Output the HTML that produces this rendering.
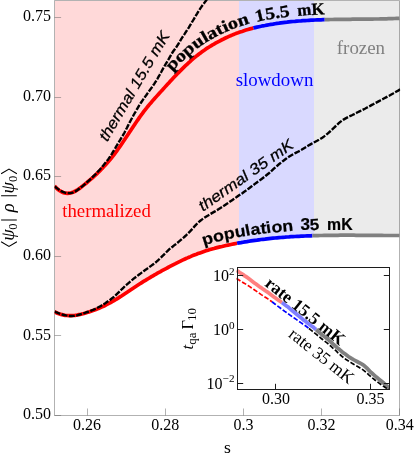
<!DOCTYPE html>
<html><head><meta charset="utf-8"><title>plot</title>
<style>html,body{margin:0;padding:0;background:#fff;}body{width:415px;height:458px;overflow:hidden;font-family:"Liberation Serif",serif;}svg{display:block;will-change:transform;}</style>
</head><body>
<svg width="415" height="458" viewBox="0 0 415 458">
<rect width="100%" height="100%" fill="#fff"/>
<path d="M54.5,0.5 238.7,0.5 238.7,243.0 237.0,243.3 235.0,243.7 233.0,244.1 231.0,244.5 229.0,244.9 227.0,245.3 225.0,245.8 223.0,246.2 221.0,246.7 219.0,247.2 217.0,247.7 215.0,248.2 213.0,248.8 211.0,249.3 209.0,249.9 207.0,250.5 205.0,251.2 203.0,251.8 201.0,252.5 199.0,253.2 197.0,254.0 195.5,254.5 194.0,255.1 192.5,255.7 191.0,256.4 189.5,257.0 188.0,257.7 186.5,258.3 185.0,259.0 183.5,259.7 182.0,260.4 180.5,261.1 179.0,261.8 177.5,262.6 176.0,263.3 174.5,264.1 173.0,264.9 171.5,265.6 170.0,266.4 168.5,267.2 167.0,268.0 165.5,268.8 164.0,269.6 162.5,270.5 161.0,271.3 159.5,272.1 158.0,273.0 156.5,273.8 155.0,274.7 153.5,275.5 152.0,276.4 150.5,277.3 149.0,278.2 147.5,279.1 146.0,280.0 144.5,280.9 143.0,281.8 141.5,282.7 140.0,283.7 138.5,284.7 137.0,285.7 135.5,286.6 134.0,287.6 132.5,288.7 131.0,289.7 129.5,290.7 128.0,291.7 126.5,292.7 125.0,293.7 123.5,294.7 122.0,295.7 120.5,296.6 119.0,297.6 117.5,298.5 116.0,299.4 114.5,300.3 113.0,301.2 111.5,302.1 110.0,302.9 108.5,303.7 107.0,304.5 105.5,305.2 104.0,306.0 102.5,306.7 101.0,307.3 99.5,308.0 98.0,308.6 96.5,309.3 95.0,309.8 93.5,310.4 91.5,311.1 89.5,311.8 87.5,312.4 85.5,313.0 83.5,313.6 81.5,314.1 79.5,314.5 77.5,314.9 75.5,315.2 73.5,315.5 71.5,315.6 69.5,315.6 67.5,315.6 65.5,315.4 63.5,315.0 61.5,314.6 59.5,313.9 58.0,313.4 56.5,312.7 55.0,312.0 54.5,311.7 Z" fill="#ffd9d9" shape-rendering="crispEdges"/>
<path d="M238.7,0.5 314.0,0.5 314.0,235.7 312.0,235.7 310.0,235.8 308.0,235.9 306.0,235.9 304.0,236.0 302.0,236.1 300.0,236.2 298.0,236.3 296.0,236.4 294.0,236.5 292.0,236.7 290.0,236.8 288.0,236.9 286.0,237.1 284.0,237.2 282.0,237.4 280.0,237.6 278.0,237.7 276.0,237.9 274.0,238.1 272.0,238.3 270.0,238.5 268.0,238.7 266.0,238.9 264.0,239.2 262.0,239.4 260.0,239.7 258.0,239.9 256.0,240.2 254.0,240.5 252.0,240.8 250.0,241.1 248.0,241.4 246.0,241.7 244.0,242.0 242.0,242.4 240.0,242.7 238.7,243.0 Z" fill="#d9d9ff" shape-rendering="crispEdges"/>
<path d="M314.0,0.5 399.5,0.5 399.5,235.5 397.5,235.5 395.5,235.5 393.5,235.5 391.5,235.5 389.5,235.5 387.5,235.5 385.5,235.5 383.5,235.5 381.5,235.4 379.5,235.4 377.5,235.4 375.5,235.4 373.5,235.4 371.5,235.4 369.5,235.3 367.5,235.3 365.5,235.3 363.5,235.3 361.5,235.3 359.5,235.3 357.5,235.3 355.5,235.2 353.5,235.2 351.5,235.2 349.5,235.2 347.5,235.2 345.5,235.2 343.5,235.2 341.5,235.2 339.5,235.2 337.5,235.3 335.5,235.3 333.5,235.3 331.5,235.3 329.5,235.3 327.5,235.4 325.5,235.4 323.5,235.4 321.5,235.5 319.5,235.5 317.5,235.6 315.5,235.6 314.0,235.7 Z" fill="#ebebeb" shape-rendering="crispEdges"/>
<path d="M54.50,0.50 H399.50 V415.50 H54.50 Z" fill="none" stroke="#666" stroke-width="1" stroke-opacity="0.5"/>
<path d="M87.50,415.50 v-7" stroke="#666" stroke-width="1" stroke-opacity="0.5"/>
<path d="M165.50,415.50 v-7" stroke="#666" stroke-width="1" stroke-opacity="0.5"/>
<path d="M243.50,415.50 v-7" stroke="#666" stroke-width="1" stroke-opacity="0.5"/>
<path d="M321.50,415.50 v-7" stroke="#666" stroke-width="1" stroke-opacity="0.5"/>
<path d="M399.50,415.50 v-7" stroke="#666" stroke-width="1" stroke-opacity="0.5"/>
<path d="M54.50,17.50 h6.6" stroke="#666" stroke-width="1" stroke-opacity="0.5"/>
<path d="M54.50,97.50 h6.6" stroke="#666" stroke-width="1" stroke-opacity="0.5"/>
<path d="M54.50,176.50 h6.6" stroke="#666" stroke-width="1" stroke-opacity="0.5"/>
<path d="M54.50,256.50 h6.6" stroke="#666" stroke-width="1" stroke-opacity="0.5"/>
<path d="M54.50,335.50 h6.6" stroke="#666" stroke-width="1" stroke-opacity="0.5"/>
<path d="M54.50,415.50 h6.6" stroke="#666" stroke-width="1" stroke-opacity="0.5"/>
<clipPath id="cf"><rect x="54.50" y="0.00" width="345.70" height="415.50"/></clipPath>
<g clip-path="url(#cf)" fill="none">
<path d="M54.5,186.0 56.0,187.6 57.5,189.0 59.0,190.2 60.5,191.2 62.0,192.0 63.5,192.7 65.5,193.2 67.5,193.3 69.5,193.2 71.5,192.8 73.5,192.0 75.0,191.3 76.5,190.4 78.0,189.5 79.5,188.4 81.0,187.3 82.5,186.1 84.0,184.9 85.5,183.7 87.0,182.5 88.5,181.2 90.0,179.9 91.5,178.6 93.0,177.3 94.5,175.9 96.0,174.6 97.5,173.1 99.0,171.7 100.5,170.2 102.0,168.6 103.5,167.1 105.0,165.4 106.5,163.8 108.0,162.1 109.5,160.3 111.0,158.5 112.5,156.6 113.5,155.3 114.5,154.0 115.5,152.7 116.5,151.3 117.5,149.9 118.5,148.5 119.5,147.1 120.5,145.7 121.5,144.2 122.5,142.7 123.5,141.3 124.5,139.8 125.5,138.3 126.5,136.8 127.5,135.3 128.5,133.7 129.5,132.2 130.5,130.7 131.5,129.2 132.5,127.7 133.5,126.2 134.5,124.7 135.5,123.2 136.5,121.8 137.5,120.3 138.5,118.9 139.5,117.4 140.5,116.0 141.5,114.6 142.5,113.3 143.5,111.9 144.5,110.6 145.5,109.3 146.5,108.1 148.0,106.2 149.5,104.4 151.0,102.7 152.5,100.9 154.0,99.2 155.5,97.6 157.0,95.9 158.5,94.2 160.0,92.6 161.5,90.9 163.0,89.3 164.5,87.6 166.0,85.9 167.5,84.3 169.0,82.7 170.5,81.0 172.0,79.4 173.5,77.8 175.0,76.2 176.5,74.7 178.0,73.1 179.5,71.6 181.0,70.1 182.5,68.6 184.0,67.1 185.5,65.7 187.0,64.3 188.5,62.9 190.0,61.6 191.5,60.2 193.0,58.9 194.5,57.7 196.0,56.4 197.5,55.2 199.0,54.0 200.5,52.9 202.0,51.8 203.5,50.7 205.0,49.7 206.5,48.6 208.0,47.7 209.5,46.7 211.0,45.8 212.5,44.9 214.0,44.1 215.5,43.2 217.0,42.4 218.5,41.6 220.0,40.8 221.5,40.0 223.0,39.3 224.5,38.5 226.0,37.8 227.5,37.1 229.0,36.4 230.5,35.8 232.0,35.1 233.5,34.5 235.0,33.9 236.5,33.3 238.0,32.8 240.0,32.0 242.0,31.4 244.0,30.7 246.0,30.1 248.0,29.5 250.0,28.9 252.0,28.4 253.4,28.0" stroke="#ff0000" stroke-width="3.7" />
<path d="M253.4,28.0 255.0,27.6 257.0,27.1 259.0,26.7 261.0,26.3 263.0,25.8 265.0,25.5 267.0,25.1 269.0,24.7 271.0,24.4 273.0,24.1 275.0,23.7 277.0,23.4 279.0,23.2 281.0,22.9 283.0,22.6 285.0,22.4 287.0,22.2 289.0,21.9 291.0,21.7 293.0,21.5 295.0,21.4 297.0,21.2 299.0,21.0 301.0,20.9 303.0,20.7 305.0,20.6 307.0,20.5 309.0,20.3 311.0,20.2 313.0,20.1 315.0,20.0 317.0,19.9 319.0,19.9 321.0,19.8 323.0,19.7 324.7,19.7" stroke="#0000ff" stroke-width="3.7" />
<path d="M324.7,19.7 326.5,19.6 328.5,19.6 330.5,19.5 332.5,19.5 334.5,19.4 336.5,19.4 338.5,19.4 340.5,19.4 342.5,19.3 344.5,19.3 346.5,19.3 348.5,19.3 350.5,19.3 352.5,19.2 354.5,19.2 356.5,19.2 358.5,19.2 360.5,19.2 362.5,19.2 364.5,19.1 366.5,19.1 368.5,19.1 370.5,19.1 372.5,19.1 374.5,19.0 376.5,19.0 378.5,19.0 380.5,18.9 382.5,18.9 384.5,18.8 386.5,18.8 388.5,18.7 390.5,18.7 392.5,18.6 394.5,18.5 396.5,18.4 398.5,18.4 399.5,18.3" stroke="#808080" stroke-width="3.7" />
<path d="M54.5,311.7 56.0,312.5 57.5,313.2 59.0,313.8 61.0,314.4 63.0,314.9 65.0,315.3 67.0,315.5 69.0,315.6 71.0,315.6 73.0,315.5 75.0,315.3 77.0,315.0 79.0,314.6 81.0,314.2 83.0,313.7 85.0,313.2 87.0,312.6 89.0,312.0 91.0,311.3 93.0,310.6 94.5,310.0 96.0,309.5 97.5,308.9 99.0,308.2 100.5,307.6 102.0,306.9 103.5,306.2 105.0,305.5 106.5,304.7 108.0,303.9 109.5,303.2 111.0,302.3 112.5,301.5 114.0,300.6 115.5,299.7 117.0,298.8 118.5,297.9 120.0,296.9 121.5,296.0 123.0,295.0 124.5,294.0 126.0,293.0 127.5,292.0 129.0,291.0 130.5,290.0 132.0,289.0 133.5,288.0 135.0,287.0 136.5,286.0 138.0,285.0 139.5,284.0 141.0,283.1 142.5,282.1 144.0,281.2 145.5,280.3 147.0,279.4 148.5,278.5 150.0,277.6 151.5,276.7 153.0,275.8 154.5,274.9 156.0,274.1 157.5,273.2 159.0,272.4 160.5,271.6 162.0,270.7 163.5,269.9 165.0,269.1 166.5,268.3 168.0,267.5 169.5,266.7 171.0,265.9 172.5,265.1 174.0,264.3 175.5,263.6 177.0,262.8 178.5,262.1 180.0,261.4 181.5,260.6 183.0,259.9 184.5,259.2 186.0,258.5 187.5,257.9 189.0,257.2 190.5,256.6 192.0,255.9 193.5,255.3 195.0,254.7 196.5,254.2 198.0,253.6 200.0,252.9 202.0,252.2 204.0,251.5 206.0,250.8 208.0,250.2 210.0,249.6 212.0,249.0 214.0,248.5 216.0,247.9 218.0,247.4 220.0,246.9 222.0,246.5 224.0,246.0 226.0,245.5 228.0,245.1 230.0,244.7 232.0,244.3 234.0,243.9 236.0,243.5 237.1,243.3" stroke="#ff0000" stroke-width="3.7" />
<path d="M237.1,243.3 239.0,242.9 241.0,242.6 243.0,242.2 245.0,241.9 247.0,241.6 249.0,241.2 251.0,240.9 253.0,240.6 255.0,240.3 257.0,240.1 259.0,239.8 261.0,239.5 263.0,239.3 265.0,239.1 267.0,238.8 269.0,238.6 271.0,238.4 273.0,238.2 275.0,238.0 277.0,237.8 279.0,237.6 281.0,237.5 283.0,237.3 285.0,237.2 287.0,237.0 289.0,236.9 291.0,236.7 293.0,236.6 295.0,236.5 297.0,236.4 299.0,236.3 301.0,236.2 303.0,236.1 305.0,236.0 307.0,235.9 309.0,235.8 311.0,235.8 312.4,235.7" stroke="#0000ff" stroke-width="3.7" />
<path d="M312.4,235.7 314.0,235.7 316.0,235.6 318.0,235.6 320.0,235.5 322.0,235.5 324.0,235.4 326.0,235.4 328.0,235.4 330.0,235.3 332.0,235.3 334.0,235.3 336.0,235.3 338.0,235.3 340.0,235.2 342.0,235.2 344.0,235.2 346.0,235.2 348.0,235.2 350.0,235.2 352.0,235.2 354.0,235.2 356.0,235.3 358.0,235.3 360.0,235.3 362.0,235.3 364.0,235.3 366.0,235.3 368.0,235.3 370.0,235.3 372.0,235.4 374.0,235.4 376.0,235.4 378.0,235.4 380.0,235.4 382.0,235.4 384.0,235.5 386.0,235.5 388.0,235.5 390.0,235.5 392.0,235.5 394.0,235.5 396.0,235.5 398.0,235.5 399.5,235.5" stroke="#808080" stroke-width="3.7" />
<path d="M54.7,186.5 56.3,187.7 57.9,188.9 59.5,190.0 61.3,191.1 63.0,191.9 64.9,192.6 66.8,193.0 68.8,193.1 70.7,193.0 72.7,192.6 74.5,191.8 76.2,190.9 77.8,189.8 79.4,188.5 81.0,187.3 82.6,186.1 84.1,184.8 85.6,183.5 87.1,182.1 88.6,180.8 90.1,179.5 91.6,178.1 93.0,176.7 94.4,175.3 95.8,173.9 97.2,172.4 98.5,171.0 99.9,169.5 101.2,168.0 102.5,166.4 103.7,164.9 105.0,163.3 106.2,161.8 107.5,160.2 108.7,158.6 109.8,157.0 110.9,155.3 112.0,153.6 113.0,151.9 114.1,150.2 115.1,148.5 116.1,146.7 117.1,145.0 118.1,143.3 119.1,141.6 120.2,139.9 121.2,138.1 122.3,136.4 123.3,134.7 124.3,133.0 125.2,131.2 126.1,129.4 127.0,127.7 127.9,125.9 128.8,124.1 129.7,122.3 130.7,120.5 131.6,118.8 132.6,117.0 133.5,115.3 134.5,113.5 135.5,111.8 136.5,110.0 137.5,108.3 138.5,106.6 139.5,104.9 140.6,103.2 141.8,101.5 142.9,99.9 144.1,98.3 145.2,96.6 146.4,95.0 147.5,93.4 148.7,91.7 149.8,90.1 151.0,88.5 152.2,86.9 153.3,85.2 154.4,83.6 155.5,81.9 156.6,80.2 157.6,78.5 158.6,76.7 159.6,75.0 160.5,73.2 161.5,71.5 162.5,69.7 163.4,68.0 164.4,66.3 165.4,64.5 166.4,62.8 167.5,61.1 168.5,59.4 169.5,57.6 170.5,55.9 171.5,54.2 172.5,52.5 173.6,50.8 174.8,49.2 176.0,47.6 177.1,45.9 178.2,44.3 179.2,42.5 180.2,40.8 181.2,39.1 182.3,37.4 183.4,35.7 184.5,34.1 185.6,32.4 186.7,30.7 187.8,29.1 188.9,27.4 189.9,25.7 191.0,24.0 192.0,22.2 193.0,20.5 194.0,18.8 195.0,17.1 196.0,15.3 197.1,13.6 198.1,11.9 199.2,10.2 200.2,8.6 201.4,6.9 202.5,5.3 203.7,3.7 204.9,2.1 206.1,0.5 207.1,-1.0 208.0,-2.5" stroke="#000" stroke-width="2.4" stroke-dasharray="5.9 1.5"/>
<path d="M54.7,311.7 56.5,312.5 58.4,313.2 60.3,313.9 62.2,314.5 64.1,315.0 66.1,315.4 68.0,315.7 70.0,316.0 72.0,316.0 74.0,315.9 76.0,315.5 77.9,315.1 79.8,314.5 81.7,313.9 83.6,313.3 85.5,312.7 87.4,312.0 89.3,311.4 91.2,310.6 93.0,309.9 94.9,309.1 96.7,308.2 98.4,307.3 100.2,306.4 101.9,305.3 103.6,304.3 105.3,303.2 106.9,302.1 108.6,300.9 110.2,299.8 111.8,298.5 113.4,297.3 114.9,296.0 116.3,294.6 117.8,293.2 119.2,291.8 120.6,290.4 122.0,289.0 123.5,287.6 124.9,286.2 126.4,284.9 127.9,283.6 129.4,282.3 130.9,281.0 132.5,279.7 134.0,278.4 135.6,277.2 137.2,276.0 138.8,274.8 140.4,273.6 142.0,272.4 143.6,271.2 145.2,270.0 146.8,268.9 148.5,267.7 150.1,266.6 151.7,265.4 153.3,264.2 154.9,263.0 156.5,261.7 158.0,260.4 159.4,259.0 160.9,257.6 162.3,256.2 163.7,254.8 165.1,253.4 166.5,252.0 167.9,250.6 169.4,249.2 170.9,247.9 172.5,246.7 174.1,245.4 175.7,244.2 177.2,243.0 178.8,241.7 180.3,240.4 181.8,239.1 183.3,237.8 184.8,236.5 186.3,235.1 187.7,233.7 189.1,232.3 190.5,230.9 191.9,229.4 193.2,227.9 194.5,226.4 195.9,224.9 197.3,223.5 198.7,222.1 200.3,220.8 201.8,219.6 203.5,218.4 205.1,217.3 206.8,216.2 208.5,215.2 210.2,214.1 211.9,213.1 213.6,212.1 215.4,211.1 217.1,210.1 218.8,209.1 220.5,208.0 222.2,206.9 223.9,205.8 225.5,204.7 227.2,203.6 228.8,202.5 230.5,201.3 232.1,200.2 233.8,199.0 235.4,197.9 237.0,196.8 238.7,195.6 240.3,194.5 242.0,193.4 243.6,192.2 245.3,191.1 246.9,189.9 248.5,188.7 250.1,187.5 251.7,186.3 253.3,185.1 254.9,183.9 256.5,182.7 258.1,181.5 259.7,180.4 261.3,179.2 262.9,178.0 264.5,176.8 266.1,175.5 267.6,174.3 269.2,173.0 270.7,171.6 272.1,170.3 273.6,168.9 275.1,167.6 276.6,166.3 278.1,165.0 279.6,163.7 281.2,162.4 282.8,161.2 284.4,160.0 286.0,158.8 287.6,157.6 289.3,156.5 291.0,155.5 292.7,154.5 294.5,153.5 296.2,152.6 298.0,151.7 299.8,150.8 301.5,149.8 303.2,148.7 304.9,147.7 306.6,146.7 308.4,145.6 310.1,144.6 311.8,143.6 313.6,142.7 315.3,141.7 317.1,140.8 318.9,139.8 320.6,138.8 322.3,137.8 323.9,136.6 325.5,135.4 327.0,134.1 328.5,132.8 330.0,131.5 331.5,130.1 333.0,128.7 334.4,127.3 335.8,126.0 337.3,124.6 338.8,123.2 340.3,121.9 341.9,120.7 343.5,119.6 345.2,118.6 347.0,117.6 348.8,116.7 350.6,115.8 352.4,115.0 354.2,114.1 355.9,113.2 357.7,112.3 359.5,111.4 361.3,110.5 363.1,109.6 364.9,108.7 366.6,107.8 368.4,106.8 370.2,105.9 371.9,104.9 373.7,104.0 375.5,103.0 377.2,102.1 379.0,101.1 380.7,100.2 382.5,99.3 384.3,98.3 386.0,97.4 387.8,96.4 389.6,95.5 391.3,94.5 393.1,93.5 394.8,92.5 396.5,91.5 398.2,90.6 399.8,89.6 400.2,89.4" stroke="#000" stroke-width="2.4" stroke-dasharray="5.9 1.5"/>
</g>
<text x="87.10" y="430" text-anchor="middle" font-size="16" font-family="Liberation Serif, serif">0.26</text>
<text x="165.30" y="430" text-anchor="middle" font-size="16" font-family="Liberation Serif, serif">0.28</text>
<text x="243.50" y="430" text-anchor="middle" font-size="16" font-family="Liberation Serif, serif">0.3</text>
<text x="321.60" y="430" text-anchor="middle" font-size="16" font-family="Liberation Serif, serif">0.32</text>
<text x="399.70" y="430" text-anchor="middle" font-size="16" font-family="Liberation Serif, serif">0.34</text>
<text x="51.1" y="21.20" text-anchor="end" font-size="16" font-family="Liberation Serif, serif">0.75</text>
<text x="51.1" y="100.80" text-anchor="end" font-size="16" font-family="Liberation Serif, serif">0.70</text>
<text x="51.1" y="180.40" text-anchor="end" font-size="16" font-family="Liberation Serif, serif">0.65</text>
<text x="51.1" y="260.00" text-anchor="end" font-size="16" font-family="Liberation Serif, serif">0.60</text>
<text x="51.1" y="339.60" text-anchor="end" font-size="16" font-family="Liberation Serif, serif">0.55</text>
<text x="51.1" y="419.20" text-anchor="end" font-size="16" font-family="Liberation Serif, serif">0.50</text>
<text x="227.4" y="453.1" text-anchor="middle" font-size="17.6" font-family="Liberation Serif, serif">s</text>
<g transform="translate(13.8,247.1) rotate(-90)" font-family="Liberation Serif, serif" fill="#000"><path d="M5.3,-12.7 L0.6,-4.8 L5.3,3.1 M73.4,-12.7 L78.1,-4.8 L73.4,3.1 M27.2,-12.7 V3 M51.3,-12.7 V3" fill="none" stroke="#000" stroke-width="1.05"/><text x="6.3" y="0" font-size="18.6" font-style="italic">ψ</text><text x="17.3" y="3.4" font-size="12.6">0</text><text x="34.9" y="0" font-size="18.6" font-style="italic">ρ</text><text x="53.7" y="0" font-size="18.6" font-style="italic">ψ</text><text x="65.2" y="3.4" font-size="12.6">0</text></g>
<text x="62.2" y="216.5" font-size="18.8" fill="#ff0000" font-family="Liberation Serif, serif">thermalized</text>
<text x="235.7" y="86.1" font-size="18.9" fill="#0000ff" font-family="Liberation Serif, serif">slowdown</text>
<text x="336.8" y="53.8" font-size="18.9" fill="#808080" font-family="Liberation Serif, serif">frozen</text>
<text transform="translate(107.2,142.3) rotate(-59.5)" font-size="15.5" font-style="italic" stroke="#000" stroke-width="0.25" textLength="124" lengthAdjust="spacingAndGlyphs" font-family="Liberation Sans, sans-serif">thermal 15.5 mK</text>
<text transform="translate(203.0,211.8) rotate(-35.2)" font-size="15.5" font-style="italic" stroke="#000" stroke-width="0.25" textLength="112" lengthAdjust="spacingAndGlyphs" font-family="Liberation Sans, sans-serif">thermal 35 mK</text>
<path id="pu" d="M146.0,100.4 147.5,98.6 149.0,96.9 150.5,95.1 152.1,93.5 153.6,91.8 155.1,90.1 156.6,88.5 158.1,86.8 159.6,85.1 161.1,83.5 162.6,81.8 164.1,80.2 165.6,78.5 167.1,76.9 168.6,75.3 170.1,73.6 171.7,72.0 173.2,70.5 174.7,68.9 176.2,67.3 177.8,65.8 179.3,64.3 180.8,62.8 182.4,61.4 183.9,60.0 185.4,58.5 187.0,57.2 188.5,55.8 190.1,54.5 191.6,53.2 193.2,51.9 194.7,50.7 196.3,49.5 197.8,48.3 199.4,47.1 201.0,46.0 202.5,44.9 204.1,43.9 205.7,42.9 207.2,41.9 208.8,41.0 210.3,40.0 211.9,39.2 213.4,38.3 215.0,37.4 216.5,36.6 218.1,35.8 219.6,35.0 221.2,34.3 222.7,33.5 224.3,32.8 225.8,32.1 227.4,31.4 228.9,30.7 230.5,30.0 232.0,29.4 233.6,28.8 235.1,28.2 236.7,27.6 238.2,27.0 239.8,26.5 241.4,26.0 242.9,25.5 244.5,25.0 246.0,24.5 247.6,24.1 249.1,23.7 250.7,23.3 252.7,22.7 254.8,22.2 256.8,21.7 258.9,21.3 260.9,20.9 263.0,20.4 265.0,20.1 267.1,19.7 269.1,19.3 271.1,19.0 273.2,18.7 275.2,18.4 277.3,18.1 279.3,17.8 281.3,17.5 283.4,17.3 285.4,17.0 287.4,16.8 289.5,16.6 291.5,16.4 293.5,16.2 295.5,16.0 297.6,15.8 299.6,15.7 301.6,15.5 303.6,15.4 305.7,15.2 307.7,15.1 309.7,15.0 311.7,14.9 313.8,14.8 315.8,14.7 317.8,14.6 319.8,14.5 321.8,14.5 323.8,14.4 325.9,14.3 327.9,14.3 329.9,14.2 331.9,14.2 333.9,14.2 335.9,14.1 337.9,14.1 339.9,14.1 341.9,14.0 343.9,14.0 344.9,14.0" fill="none"/>
<text font-size="17" font-weight="bold" stroke="#000" stroke-width="0.3" font-family="Liberation Serif, serif"><textPath href="#pu" startOffset="38.8" textLength="93.0" lengthAdjust="spacingAndGlyphs">population</textPath></text>
<text font-size="17" font-weight="bold" stroke="#000" stroke-width="0.3" font-family="Liberation Serif, serif"><textPath href="#pu" startOffset="138.3" textLength="34.4" lengthAdjust="spacingAndGlyphs">15.5</textPath></text>
<text font-size="17" font-weight="bold" stroke="#000" stroke-width="0.3" font-family="Liberation Serif, serif"><textPath href="#pu" startOffset="180.3" textLength="27.1" lengthAdjust="spacingAndGlyphs">mK</textPath></text>
<path id="pl" d="M182.6,253.8 184.2,253.1 185.7,252.4 187.2,251.8 188.8,251.1 190.3,250.5 191.9,249.8 193.4,249.2 195.0,248.6 196.5,248.1 198.1,247.5 199.6,246.9 201.2,246.4 202.7,245.9 204.3,245.4 205.8,244.9 207.4,244.4 208.9,244.0 210.5,243.5 212.5,243.0 214.6,242.4 216.6,241.9 218.7,241.4 220.7,240.9 222.7,240.4 224.8,240.0 226.8,239.5 228.8,239.1 230.9,238.7 232.9,238.3 234.9,237.9 237.0,237.5 239.0,237.1 241.0,236.8 243.1,236.4 245.1,236.1 247.1,235.8 249.1,235.4 251.2,235.1 253.2,234.8 255.2,234.6 257.2,234.3 259.3,234.0 261.3,233.8 263.3,233.5 265.4,233.3 267.4,233.1 269.4,232.8 271.4,232.6 273.4,232.4 275.5,232.2 277.5,232.1 279.5,231.9 281.5,231.7 283.6,231.5 285.6,231.4 287.6,231.3 289.6,231.1 291.6,231.0 293.7,230.9 295.7,230.7 297.7,230.6 299.7,230.5 301.7,230.4 303.8,230.3 305.8,230.3 307.8,230.2 309.8,230.1 311.8,230.0 313.8,230.0 315.8,229.9 317.9,229.9 319.9,229.8 321.9,229.8 323.9,229.7 325.9,229.7 327.9,229.7 329.9,229.6 331.9,229.6 333.9,229.6 336.0,229.6 338.0,229.6 340.0,229.5 342.0,229.5 344.0,229.5 346.0,229.5 348.0,229.5 350.0,229.5 352.0,229.5 354.0,229.5 356.0,229.6 358.0,229.6 360.0,229.6 362.0,229.6 364.0,229.6 366.0,229.6 368.0,229.6 370.0,229.6 372.0,229.7 374.0,229.7 375.0,229.7" fill="none"/>
<text font-size="16" font-weight="bold" stroke="#000" stroke-width="0.2" font-family="Liberation Sans, sans-serif"><textPath href="#pl" startOffset="22.8" textLength="91.1" lengthAdjust="spacingAndGlyphs">population</textPath></text>
<text font-size="16" font-weight="bold" stroke="#000" stroke-width="0.2" font-family="Liberation Sans, sans-serif"><textPath href="#pl" startOffset="121.0" textLength="19.0" lengthAdjust="spacingAndGlyphs">35</textPath></text>
<text font-size="16" font-weight="bold" stroke="#000" stroke-width="0.2" font-family="Liberation Sans, sans-serif"><textPath href="#pl" startOffset="147.5" textLength="25.5" lengthAdjust="spacingAndGlyphs">mK</textPath></text>
<rect x="237.50" y="267.50" width="152.00" height="122.00" fill="#fff"/>
<clipPath id="ci"><rect x="236.30" y="267.50" width="153.60" height="122.40"/></clipPath>
<g clip-path="url(#ci)" fill="none">
<path d="M236.5,270.4 238.1,271.4 239.7,272.5 241.4,273.6 243.1,274.7 244.7,275.8 246.4,276.9 248.0,278.1 249.6,279.3 251.2,280.5 252.8,281.7 254.4,282.9 256.0,284.1 257.6,285.3 259.2,286.5 260.9,287.6 262.5,288.8 264.2,289.9 265.8,291.0 267.5,292.1 269.1,293.3 270.7,294.5 272.3,295.7 273.9,296.9 275.5,298.1 277.1,299.3 278.8,300.4 280.4,301.5 281.9,302.5" stroke="#ff8080" stroke-width="3.8" />
<path d="M281.9,302.5 283.3,303.5 284.9,304.7 286.5,305.9 288.1,307.1 289.6,308.4 291.2,309.7 292.7,310.9 294.3,312.2 295.8,313.5 297.3,314.8 298.9,316.1 300.4,317.3 302.0,318.6 303.5,319.9 305.1,321.1 306.7,322.3 308.2,323.6 309.9,324.7 311.5,325.9 313.1,327.1 314.6,328.4 316.1,329.6" stroke="#8080ff" stroke-width="3.8" />
<path d="M316.1,329.6 317.7,331.0 319.1,332.3 320.7,333.6 322.2,334.9 323.8,336.1 325.4,337.4 326.9,338.6 328.5,339.9 330.0,341.2 331.4,342.5 332.9,343.9 334.4,345.2 335.9,346.5 337.4,347.9 338.9,349.1 340.5,350.4 342.0,351.7 343.6,352.9 345.2,354.1 346.8,355.3 348.4,356.5 350.1,357.6 351.8,358.7 353.5,359.7 355.3,360.6 357.0,361.5 358.8,362.5 360.6,363.4 362.3,364.4 364.0,365.5 365.5,366.8 366.9,368.2 368.3,369.6 369.7,371.1 371.1,372.5 372.6,373.8 374.1,375.1 375.6,376.4 377.2,377.7 378.7,379.0 380.2,380.2 381.8,381.5 383.3,382.8 384.8,384.1 386.3,385.4 387.8,386.7 389.3,388.1 389.5,388.3" stroke="#808080" stroke-width="3.8" />
<path d="M236.3,278.5 237.7,279.3 239.4,280.3 241.2,281.4 242.9,282.4 244.6,283.4 246.3,284.5 248.0,285.5 249.7,286.6 251.3,287.7 253.0,288.8 254.6,290.0 256.3,291.1 257.9,292.3 259.5,293.4 261.2,294.6 262.9,295.7 264.5,296.8 266.2,297.8 267.9,298.9 269.6,300.0 271.2,301.2 272.0,301.8" stroke="#ff0000" stroke-width="1.7" stroke-dasharray="4.8 1.9"/>
<path d="M272.0,301.8 273.6,303.0 275.2,304.2 276.8,305.4 278.4,306.6 280.0,307.8 281.6,309.0 283.2,310.2 284.8,311.4 286.4,312.5 288.0,313.7 289.7,314.9 291.3,316.0 292.9,317.2 294.6,318.3 296.2,319.4 297.9,320.6 299.5,321.7 301.2,322.9 302.8,324.0 304.5,325.1 306.1,326.3 307.7,327.5 309.0,328.5" stroke="#0000ff" stroke-width="1.7" stroke-dasharray="4.8 1.9"/>
<path d="M309.0,328.5 310.4,329.7 312.0,330.9 313.6,332.2 315.1,333.4 316.7,334.7 318.2,336.0 319.8,337.2 321.3,338.5 322.9,339.7 324.5,340.9 326.0,342.2 327.6,343.4 329.1,344.7 330.6,346.0 332.1,347.4 333.6,348.7 335.1,350.0 336.6,351.4 338.0,352.8 339.5,354.2 341.0,355.5 342.5,356.8 344.1,358.0 345.7,359.2 347.3,360.3 349.0,361.4 350.7,362.4 352.4,363.5 354.1,364.5 355.9,365.5 357.6,366.5 359.3,367.5 361.0,368.5 362.7,369.6 364.3,370.8 365.9,372.1 367.3,373.4 368.8,374.8 370.3,376.1 371.8,377.5 373.3,378.7 374.9,380.0 376.5,381.2 378.1,382.4 379.7,383.6 381.3,384.8 382.9,385.9 384.6,387.0 386.2,388.1 387.7,389.1 389.5,389.3" stroke="#000" stroke-width="1.7" stroke-dasharray="4.8 1.9"/>
</g>
<rect x="237.50" y="267.50" width="152.00" height="122.00" fill="none" stroke="#1c1c1c" stroke-width="1"/>
<path d="M237.50,275.50 h5.7 M389.50,275.50 h-5.7" stroke="#1c1c1c" stroke-width="1"/>
<path d="M237.50,329.50 h5.7 M389.50,329.50 h-5.7" stroke="#1c1c1c" stroke-width="1"/>
<path d="M237.50,383.50 h5.7 M389.50,383.50 h-5.7" stroke="#1c1c1c" stroke-width="1"/>
<path d="M275.50,389.50 v-5.7" stroke="#1c1c1c" stroke-width="1"/>
<path d="M370.50,389.50 v-5.7" stroke="#1c1c1c" stroke-width="1"/>
<text x="234.5" y="281.10" text-anchor="end" font-size="16" font-family="Liberation Serif, serif">10<tspan font-size="11.2" dy="-6.3">2</tspan></text>
<text x="234.5" y="334.90" text-anchor="end" font-size="16" font-family="Liberation Serif, serif">10<tspan font-size="11.2" dy="-6.3">0</tspan></text>
<text x="234.5" y="388.70" text-anchor="end" font-size="16" font-family="Liberation Serif, serif">10<tspan font-size="11.2" dy="-6.3">−2</tspan></text>
<text x="276.00" y="404.3" text-anchor="middle" font-size="16" font-family="Liberation Serif, serif">0.30</text>
<text x="370.50" y="404.3" text-anchor="middle" font-size="16" font-family="Liberation Serif, serif">0.35</text>
<g transform="translate(192.5,349.8) rotate(-90)" font-family="Liberation Serif, serif"><text x="0.2" y="0" font-size="16.5" font-style="italic">t</text><text x="5.1" y="3" font-size="13">qa</text><text x="20.4" y="0" font-size="16.5">Γ</text><text x="28.8" y="3" font-size="13">10</text></g>
<text transform="translate(264.0,285.2) rotate(38.8)" font-size="17.4" font-weight="bold" textLength="97" lengthAdjust="spacing" font-family="Liberation Serif, serif">rate 15.5 mK</text>
<text transform="translate(287.4,336.0) rotate(38.4)" font-size="17.4" textLength="78.2" lengthAdjust="spacing" font-family="Liberation Serif, serif">rate 35 mK</text>
</svg>
</body></html>
